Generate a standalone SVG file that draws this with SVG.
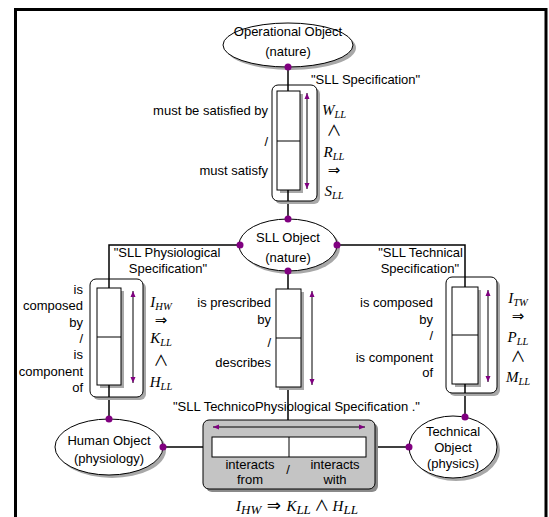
<svg xmlns="http://www.w3.org/2000/svg" width="549" height="517" viewBox="0 0 549 517">
  <style>
    .lbl { font-family: "Liberation Sans", Arial, sans-serif; font-size: 13px; fill: #000; }
    .mid { text-anchor: middle; }
    .end { text-anchor: end; }
    .math { font-family: "Liberation Serif", "DejaVu Serif", serif; font-style: italic; font-size: 15px; fill: #000; text-anchor: middle; }
    .op { font-family: "DejaVu Sans", sans-serif; font-style: normal; font-weight: normal; }
    .wedge { font-family: "Noto Sans CJK JP", "DejaVu Sans", sans-serif; font-style: normal; font-weight: normal; font-size: 15px; }
    .node { fill: #fff; stroke: #000; stroke-width: 1; }
    .shadow { fill: #a8a8a8; stroke: none; }
    .box { fill: #fff; stroke: #000; stroke-width: 1; }
    .gray { fill: #c4c4c4; stroke: #000; stroke-width: 1; }
    .conn { fill: none; stroke: #000; stroke-width: 1.5; }
    .thin { stroke: #000; stroke-width: 1; }
    .dir { stroke: #000; stroke-width: 1; marker-start: url(#ah); marker-end: url(#ah); }
    .dot { fill: #800080; }
  </style>
  <defs>
    <marker id="ah" viewBox="0 0 6 6" refX="6" refY="3" markerWidth="6" markerHeight="6" markerUnits="userSpaceOnUse" orient="auto-start-reverse">
      <path d="M0,0.5 L6,3 L0,5.5 z" fill="#800080"/>
    </marker>
  </defs>

  <!-- outer frame -->
  <path d="M15.5,517 V9.5 H546 V517" fill="none" stroke="#000" stroke-width="3"/>

  <!-- connectors -->
  <g id="connectors">
    <line class="conn" x1="288" y1="67" x2="288" y2="91"/>
    <line class="conn" x1="288" y1="190" x2="288" y2="219"/>
    <polyline class="conn" points="240,245 109,245 109,288"/>
    <polyline class="conn" points="337,245 465,245 465,287"/>
    <line class="conn" x1="109" y1="385" x2="109" y2="419"/>
    <line class="conn" x1="465" y1="384" x2="465" y2="417"/>
    <line class="conn" x1="288" y1="271" x2="288" y2="289"/>
    <line class="conn" x1="288" y1="387" x2="288" y2="420"/>
    <line class="conn" x1="163" y1="447" x2="212" y2="447"/>
    <line class="conn" x1="366" y1="447" x2="409" y2="447"/>
  </g>

  <!-- Operational Object -->
  <g id="operational-object">
    <ellipse class="shadow" cx="291" cy="48" rx="65" ry="22"/>
    <ellipse class="node" cx="288" cy="45" rx="65" ry="22"/>
    <text class="lbl mid" x="288" y="36">Operational Object</text>
    <text class="lbl mid" x="288" y="56">(nature)</text>
  </g>

  <!-- SLL Specification -->
  <g id="sll-specification">
    <rect class="shadow" x="275" y="88" width="45" height="116" rx="6"/>
    <rect class="box" x="272" y="85" width="45" height="116" rx="6"/>
    <rect class="shadow" x="280" y="94" width="23" height="99"/>
    <rect class="box" x="277" y="91" width="23" height="99"/>
    <line class="conn" x1="288" y1="85" x2="288" y2="91"/>
    <line class="conn" x1="288" y1="190" x2="288" y2="201"/>
    <line class="thin" x1="277" y1="141" x2="300" y2="141"/>
    <line class="dir" x1="307" y1="93" x2="307" y2="189"/>
    <text class="lbl" x="311" y="84">"SLL Specification"</text>
    <text class="lbl end" x="268" y="115">must be satisfied by</text>
    <text class="lbl end" x="268" y="146">/</text>
    <text class="lbl end" x="268" y="175">must satisfy</text>
    <text class="math" x="334" y="115">W<tspan font-size="10.5" dy="3">LL</tspan></text>
    <text class="math wedge" x="334" y="136">∧</text>
    <text class="math" x="334" y="157">R<tspan font-size="10.5" dy="3">LL</tspan></text>
    <text class="math op" x="334" y="175">⇒</text>
    <text class="math" x="334" y="196">S<tspan font-size="10.5" dy="3">LL</tspan></text>
  </g>

  <!-- SLL Object -->
  <g id="sll-object">
    <ellipse class="shadow" cx="291" cy="248" rx="49" ry="26"/>
    <ellipse class="node" cx="288" cy="245" rx="49" ry="26"/>
    <text class="lbl mid" x="288" y="242">SLL Object</text>
    <text class="lbl mid" x="288" y="262">(nature)</text>
  </g>

  <!-- SLL Physiological Specification -->
  <g id="sll-physiological-specification">
    <rect class="shadow" x="93" y="282" width="53" height="118" rx="6"/>
    <rect class="box" x="90" y="279" width="53" height="118" rx="6"/>
    <rect class="shadow" x="100" y="291" width="24" height="97"/>
    <rect class="box" x="97" y="288" width="24" height="97"/>
    <line class="conn" x1="109" y1="279" x2="109" y2="288"/>
    <line class="conn" x1="109" y1="385" x2="109" y2="397"/>
    <line class="thin" x1="97" y1="337" x2="121" y2="337"/>
    <line class="dir" x1="133" y1="291" x2="133" y2="383"/>
    <text class="lbl mid" x="167" y="257">"SLL Physiological</text>
    <text class="lbl mid" x="168" y="273">Specification"</text>
    <text class="lbl end" x="83" y="294">is</text>
    <text class="lbl end" x="83" y="310">composed</text>
    <text class="lbl end" x="83" y="327">by</text>
    <text class="lbl end" x="83" y="343">/</text>
    <text class="lbl end" x="83" y="359">is</text>
    <text class="lbl end" x="83" y="376">component</text>
    <text class="lbl end" x="83" y="392">of</text>
    <text class="math" x="161" y="307">I<tspan font-size="10.5" dy="3">HW</tspan></text>
    <text class="math op" x="161" y="325">⇒</text>
    <text class="math" x="161" y="343">K<tspan font-size="10.5" dy="3">LL</tspan></text>
    <text class="math wedge" x="161" y="366">∧</text>
    <text class="math" x="161" y="387">H<tspan font-size="10.5" dy="3">LL</tspan></text>
  </g>

  <!-- prescription between SLL Object and the interaction -->
  <g id="sll-prescription">
    <rect class="shadow" x="279" y="292" width="25" height="98"/>
    <rect class="box" x="276" y="289" width="25" height="98"/>
    <line class="thin" x1="276" y1="338" x2="301" y2="338"/>
    <line class="dir" x1="312" y1="291" x2="312" y2="385"/>
    <text class="lbl end" x="271" y="307">is prescribed</text>
    <text class="lbl end" x="271" y="324">by</text>
    <text class="lbl end" x="271" y="347">/</text>
    <text class="lbl end" x="271" y="367">describes</text>
  </g>

  <!-- SLL Technical Specification -->
  <g id="sll-technical-specification">
    <rect class="shadow" x="449" y="280" width="51" height="116" rx="6"/>
    <rect class="box" x="446" y="277" width="51" height="116" rx="6"/>
    <rect class="shadow" x="455" y="290" width="26" height="97"/>
    <rect class="box" x="452" y="287" width="26" height="97"/>
    <line class="conn" x1="465" y1="277" x2="465" y2="287"/>
    <line class="conn" x1="465" y1="384" x2="465" y2="393"/>
    <line class="thin" x1="452" y1="335" x2="478" y2="335"/>
    <line class="dir" x1="488" y1="290" x2="488" y2="382"/>
    <text class="lbl end" x="463" y="257">"SLL Technical</text>
    <text class="lbl end" x="459" y="273">Specification"</text>
    <text class="lbl end" x="433" y="307">is composed</text>
    <text class="lbl end" x="433" y="324">by</text>
    <text class="lbl end" x="433" y="340">/</text>
    <text class="lbl end" x="433" y="362">is component</text>
    <text class="lbl end" x="433" y="377">of</text>
    <text class="math" x="518" y="303">I<tspan font-size="10.5" dy="3">TW</tspan></text>
    <text class="math op" x="518" y="321">⇒</text>
    <text class="math" x="518" y="342">P<tspan font-size="10.5" dy="3">LL</tspan></text>
    <text class="math wedge" x="518" y="362">∧</text>
    <text class="math" x="518" y="382">M<tspan font-size="10.5" dy="3">LL</tspan></text>
  </g>

  <!-- Human Object -->
  <g id="human-object">
    <ellipse class="shadow" cx="112" cy="450" rx="54" ry="28"/>
    <ellipse class="node" cx="109" cy="447" rx="54" ry="28"/>
    <text class="lbl mid" x="109" y="445">Human Object</text>
    <text class="lbl mid" x="109" y="463">(physiology)</text>
  </g>

  <!-- Technical Object -->
  <g id="technical-object">
    <ellipse class="shadow" cx="456" cy="450" rx="44" ry="31"/>
    <ellipse class="node" cx="453" cy="447" rx="44" ry="31"/>
    <text class="lbl mid" x="453" y="436">Technical</text>
    <text class="lbl mid" x="453" y="452">Object</text>
    <text class="lbl mid" x="453" y="468">(physics)</text>
  </g>

  <!-- SLL TechnicoPhysiological Specification -->
  <g id="sll-technicophysiological-specification">
    <text class="lbl" x="173" y="411">"SLL TechnicoPhysiological Specification ."</text>
    <rect fill="#8a8a8a" x="206" y="423" width="172" height="69" rx="6"/>
    <rect class="gray" x="203" y="420" width="172" height="69" rx="6"/>
    <rect class="box" x="212" y="437" width="154" height="20"/>
    <line class="thin" x1="289" y1="437" x2="289" y2="457"/>
    <line class="dir" x1="213" y1="427" x2="365" y2="427"/>
    <text class="lbl mid" x="250" y="469">interacts</text>
    <text class="lbl mid" x="250" y="484">from</text>
    <text class="lbl mid" x="288" y="474">/</text>
    <text class="lbl mid" x="335" y="469">interacts</text>
    <text class="lbl mid" x="335" y="484">with</text>
    <text class="math" x="297" y="511" font-size="19">I<tspan font-size="13" dy="3">HW</tspan><tspan dy="-3" class="op" font-size="17"> ⇒ </tspan>K<tspan font-size="13" dy="3">LL</tspan><tspan dy="-3" class="wedge" font-size="19"> ∧ </tspan>H<tspan font-size="13" dy="3">LL</tspan></text>
  </g>

  <!-- attachment dots -->
  <g id="dots">
    <circle class="dot" cx="288" cy="67" r="3.5"/>
    <circle class="dot" cx="288" cy="219" r="3.5"/>
    <circle class="dot" cx="240" cy="245" r="3.5"/>
    <circle class="dot" cx="337" cy="245" r="3.5"/>
    <circle class="dot" cx="288" cy="271" r="3.5"/>
    <circle class="dot" cx="109" cy="419" r="3.5"/>
    <circle class="dot" cx="163" cy="447" r="3.5"/>
    <circle class="dot" cx="465" cy="417" r="3.5"/>
    <circle class="dot" cx="409" cy="447" r="3.5"/>
  </g>
</svg>
